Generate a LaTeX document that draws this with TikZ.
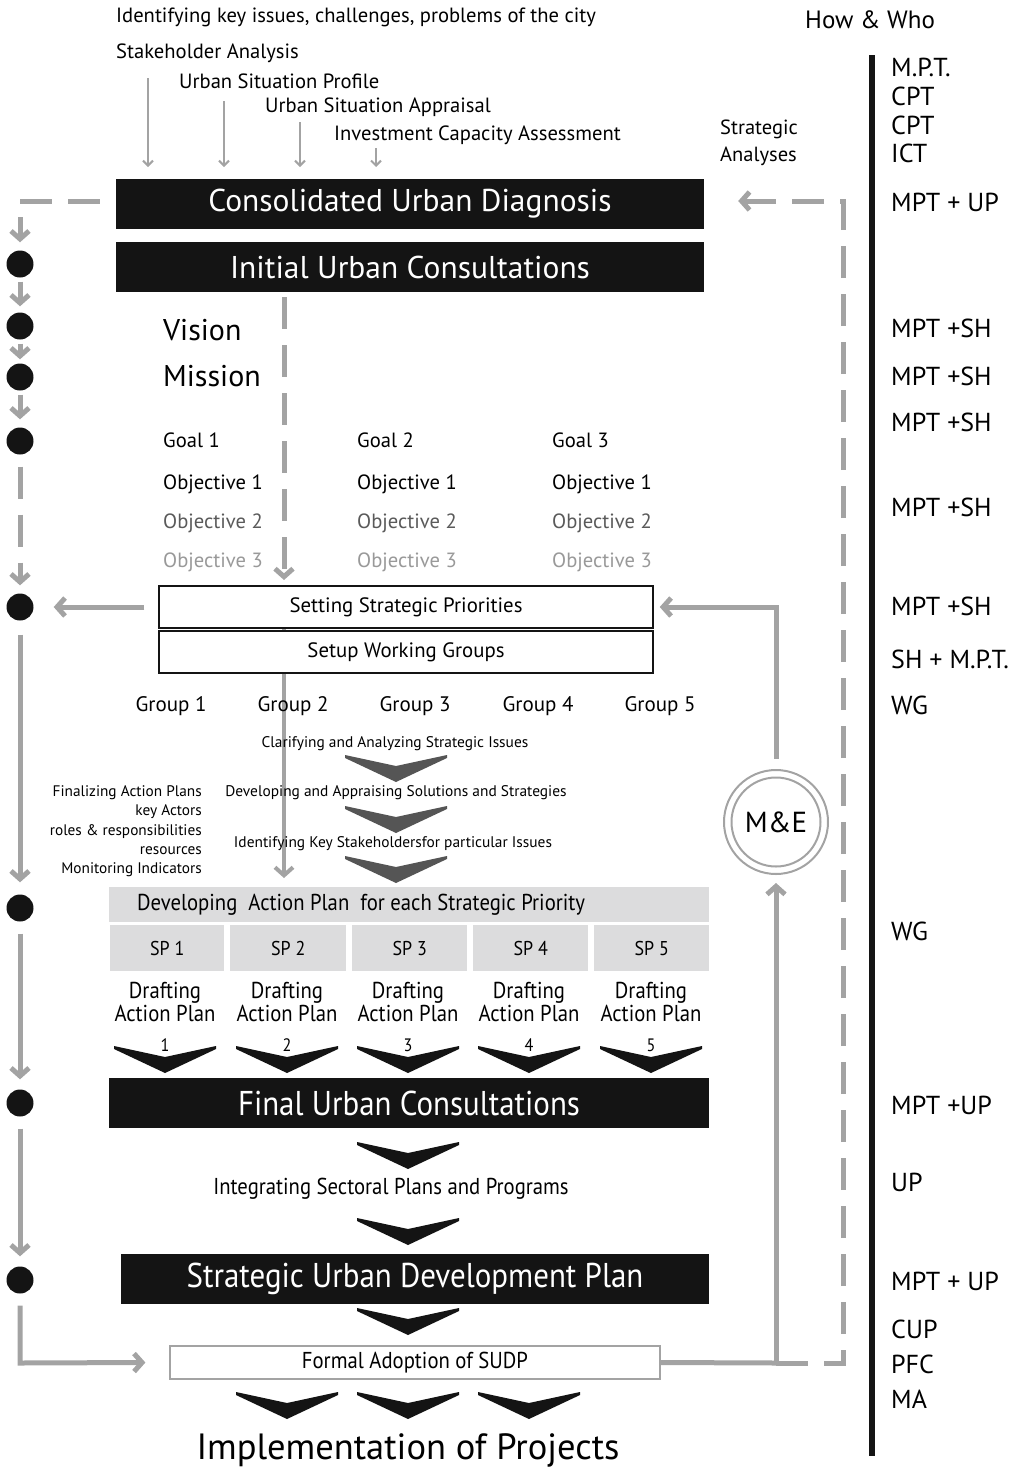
\documentclass[tikz,border=0pt]{standalone}
\usepackage{fontspec}
\setmainfont{PT Sans}
\newfontfamily\condf[FakeStretch=0.9]{PT Sans}
\usetikzlibrary{arrows.meta}
\definecolor{boxblack}{HTML}{141414}
\definecolor{lgray}{HTML}{A3A3A3}
\definecolor{dgray}{HTML}{555555}
\definecolor{boxgray}{HTML}{DCDCDD}
\definecolor{obj2}{HTML}{5A5A5A}
\definecolor{obj3}{HTML}{999999}
\newcommand\fs[1]{\fontsize{#1}{#1}\selectfont}
\newcommand\chevron[4]{\fill[#4] (#1-#3,#2) -- (#1,#2+11) -- (#1+#3,#2) -- (#1+#3,#2+3) -- (#1,#2+27) -- (#1-#3,#2+3) -- cycle;}
\begin{document}
\begin{tikzpicture}[x=1pt,y=-1pt,
  lab/.style={inner sep=0, anchor=west},
  rlab/.style={inner sep=0, anchor=east},
  clab/.style={inner sep=0},
  blk/.style={fill=boxblack, text=white, inner sep=0, minimum height=50, font=\fs{31.5}},
  wbox/.style={fill=white, draw=boxblack, line width=1.5, inner sep=0, minimum height=42, font=\fs{20.8}},
  gbox/.style={fill=boxgray, inner sep=0},
  thinarr/.style={draw=lgray, line width=2, -{Straight Barb[length=5,width=10]}},
  thickarr/.style={draw=lgray, line width=5, -{Straight Barb[length=8,width=18]}},
  thickline/.style={draw=lgray, line width=5},
  dashline/.style={draw=lgray, line width=5, dash pattern=on 32 off 16},
  dot/.style={circle, fill=boxblack, inner sep=0, minimum size=27},
  who/.style={inner sep=0, anchor=west, font=\fs{26}},
]
\useasboundingbox (0,0) rectangle (1018,1470);

% ---- top texts
\node[lab, font=\fs{20.6}] (t1) at (116,17) {Identifying key issues, challenges, problems of the city};
\node[lab, font=\fs{20.6}] (t2) at (116,53) {Stakeholder Analysis};
\node[lab, font=\fs{20.6}] (t3) at (179,81) {Urban Situation Profile};
\node[lab, font=\fs{20.6}] (t4) at (265,107) {Urban Situation Appraisal};
\node[lab, font=\fs{20.6}] (t5) at (334,135) {Investment Capacity Assessment};
\node[lab, font=\fs{20.5}, align=left] (sa) at (720,143) {Strategic\\[6pt]Analyses};
\node[lab, font=\fs{25}] (hw) at (805,20) {How \& Who};

% ---- black boxes
\node[blk, minimum width=588] (cud) at (410,204) {Consolidated Urban Diagnosis};
\node[blk, minimum width=588] (iuc) at (410,267) {Initial Urban Consultations};
\node[blk, minimum width=600, font=\condf\fs{34.4}] (fuc) at (409,1103) {Final Urban Consultations};
\node[blk, minimum width=588, font=\condf\fs{34.4}] (sudp) at (415,1279) {Strategic Urban Development Plan};

\draw[thinarr] (148,78) -- (148,167);
\draw[thinarr] (224,101) -- (224,167);
\draw[thinarr] (300,122) -- (300,167);
\draw[thinarr] (376,148) -- (376,167);

% ---- vision etc
\node[lab, font=\fs{30}] (vis) at (163,330) {Vision};
\node[lab, font=\fs{30}] (mis) at (163,376) {Mission};
\foreach \gx/\gi in {163/1,357/2,552/3}{
  \node[lab, font=\fs{20.6}] (goal\gi) at (\gx,440) {Goal \gi};
  \node[lab, font=\fs{20.6}] (o1\gi) at (\gx,484) {Objective 1};
  \node[lab, font=\fs{20.6}, text=obj2] (o2\gi) at (\gx,523) {Objective 2};
  \node[lab, font=\fs{20.6}, text=obj3] (o3\gi) at (\gx,562) {Objective 3};
}

% ---- gray vertical through groups
\draw[thickarr, line width=4] (284,610) -- (284,878);

% ---- white boxes
\node[wbox, minimum width=494] (ssp) at (406,607) {Setting Strategic Priorities};
\node[wbox, minimum width=494] (swg) at (406,652) {Setup Working Groups};
\draw[dashline, -{Straight Barb[length=8,width=18]}] (284,297) -- (284,580);

\foreach \gx/\gi in {171/1,293/2,415/3,538/4,660/5}{
  \node[clab, font=\fs{21}] (grp\gi) at (\gx,706) {Group \gi};
}

% ---- chevrons in the middle
\node[clab, font=\fs{15.4}] (cl) at (395,744) {Clarifying and Analyzing Strategic Issues};
\chevron{396}{755}{51}{dgray}
\node[clab, font=\fs{15.4}] (dv) at (396,793) {Developing and Appraising Solutions and Strategies};
\chevron{396}{806}{51}{dgray}
\node[clab, font=\fs{15.4}] (ik) at (393,844) {Identifying Key Stakeholdersfor particular Issues};
\chevron{396}{856}{51}{dgray}

\node[rlab, font=\fs{15.3}] (f1) at (202,793) {Finalizing Action Plans};
\node[rlab, font=\fs{15.3}] (f2) at (202,812) {key Actors};
\node[rlab, font=\fs{15.3}] (f3) at (202,832) {roles \& responsibilities};
\node[rlab, font=\fs{15.3}] (f4) at (202,851) {resources};
\node[rlab, font=\fs{15.3}] (f5) at (202,870) {Monitoring Indicators};

% ---- action plan block
\node[gbox, minimum width=600, minimum height=35] (dap) at (409,904.5) {};
\node[lab, font=\condf\fs{23}] (dapt) at (137,905) {Developing\ \ Action Plan\ \ for each Strategic Priority};
\foreach \x/\w/\i/\c in {110/114/1/165, 230/116/2/287, 352/115/3/408, 473/115/4/529, 594/115/5/651}{
  \node[gbox, minimum width=\w, minimum height=46, anchor=north west] (sp\i) at (\x,925) {};
  \node[clab, font=\condf\fs{20}] (spt\i) at (sp\i.center) {SP \i};
  \node[clab, font=\condf\fontsize{23}{20}\selectfont, align=center] (dr\i) at (\c,1002) {Drafting\\Action Plan};
  \chevron{\c}{1046}{51}{boxblack}
  \node[clab, font=\condf\fs{18}] (n\i) at (\c,1045) {\i};
}

% ---- lower chevrons
\chevron{408}{1142}{51}{boxblack}
\node[clab, font=\condf\fs{23}] (isp) at (391,1189) {Integrating Sectoral Plans and Programs};
\chevron{408}{1218}{51}{boxblack}
\chevron{408}{1308}{51}{boxblack}
\node[draw=lgray, line width=1.2, fill=white, minimum width=490, minimum height=33, inner sep=0, font=\condf\fs{23}] (fa) at (415,1362.5) {Formal Adoption of SUDP};
\chevron{287}{1392}{51}{boxblack}
\chevron{408}{1392}{51}{boxblack}
\chevron{529}{1392}{51}{boxblack}
\node[clab, font=\fs{36.5}] (imp) at (408,1450) {Implementation of Projects};

% ---- M&E
\node[circle, draw=lgray, line width=2, minimum size=104, inner sep=0] (me) at (776,822) {};
\node[circle, draw=lgray, line width=2, minimum size=89, inner sep=0, font=\fs{29}] (mei) at (776,822) {M\&E};
\draw[thickline] (fa.east) -- (776,1363);
\draw[thickarr] (776,1363) -- ([yshift=-8]me.south);
\draw[thickarr] ([yshift=10]me.north) -- (776,607) -- ([xshift=6]ssp.east);
\draw[dashline, -{Straight Barb[length=8,width=18]}] (776,1363) -- (843,1363) -- (843,201) -- ([xshift=34]cud.east |- 0,201);

% ---- left column
\draw[dashline] ([xshift=-16]cud.west |- 0,201) -- (20,201);
\foreach \i/\y in {1/264,2/326,3/377,4/441,5/607,6/908,7/1103,8/1280}{
  \node[dot] (d\i) at (20,\y) {};
}
\draw[thickarr] (20,217) -- ([yshift=8]d1.north);
\draw[thickarr] ([yshift=-4]d1.south) -- ([yshift=6]d2.north);
\draw[thickarr] ([yshift=-4]d2.south) -- ([yshift=4]d3.north);
\draw[thickarr] ([yshift=-4]d3.south) -- ([yshift=8]d4.north);
\draw[dashline, -{Straight Barb[length=8,width=18]}] ([yshift=-12]d4.south) -- ([yshift=8]d5.north);
\draw[thickarr] ([xshift=-14]ssp.west) -- ([xshift=20]d5.east);
\draw[thickarr] ([yshift=-14]d5.south) -- ([yshift=12]d6.north);
\draw[thickarr] ([yshift=-12]d6.south) -- ([yshift=10]d7.north);
\draw[thickarr] ([yshift=-12]d7.south) -- ([yshift=10]d8.north);
\draw[thickarr] ([yshift=-12]d8.south) -- (20,1363) -- ([xshift=-24]fa.west);

% ---- How & Who column
\draw[boxblack, line width=6] (872,55) -- (872,1456);
\foreach \y/\t [count=\i] in {67/M.P.T., 96/CPT, 125/CPT, 153/ICT, 202/MPT + UP, 328/MPT +SH, 376/MPT +SH, 422/MPT +SH, 507/MPT +SH, 606/MPT +SH, 659/SH + M.P.T., 705/WG, 931/WG, 1105/MPT +UP, 1182/UP, 1281/MPT + UP, 1329/CUP, 1364/PFC, 1399/MA}{
  \node[who] (w\i) at (891,\y) {\t};
}
\end{tikzpicture}
\end{document}
